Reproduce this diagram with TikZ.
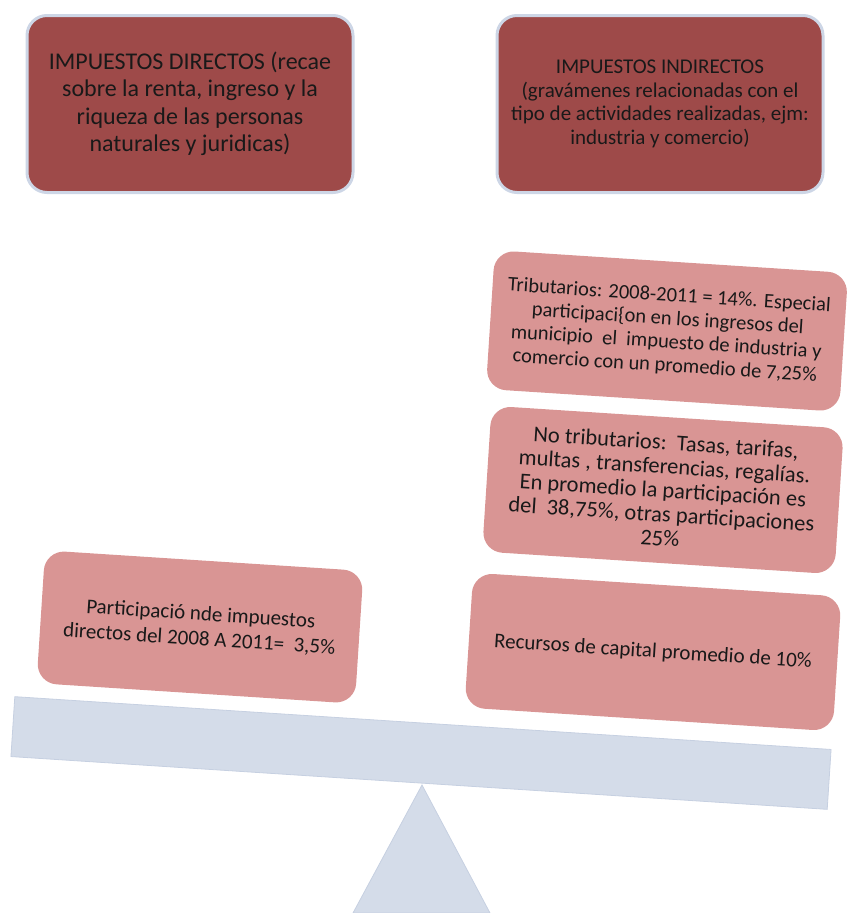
\documentclass[tikz,border=0pt]{standalone}
\usepackage{fontspec}
\setmainfont{Carlito}
\usetikzlibrary{calc}

\definecolor{headred}{RGB}{158,74,73}
\definecolor{frameblue}{RGB}{205,214,230}
\definecolor{weightpink}{RGB}{217,149,148}
\definecolor{beamblue}{RGB}{212,220,233}
\definecolor{beamedge}{RGB}{198,208,225}

\begin{document}
\begin{tikzpicture}[
  x=1pt,y=-1pt,
  font=\fontsize{21}{24}\selectfont,
  box/.style={rounded corners=20pt,align=center,inner sep=4pt,text=black!90},
  head/.style={box,fill=headred,draw=frameblue,line width=3pt,minimum width=326pt,minimum height=177pt},
  weight/.style={box,fill=weightpink,rotate=-3.7},
  seesaw/.style={fill=beamblue,draw=beamedge,line width=0.8pt},
]
\useasboundingbox (0,0) rectangle (848,913);

% balance
\node[seesaw,rotate=-3.7,minimum width=818pt,minimum height=60pt,inner sep=0pt] (bar) at (421,753) {};
\coordinate (apex) at (422,785);
\coordinate (footl) at (353,913);
\coordinate (footr) at (490,913);
\draw[seesaw] (apex) -- (footr) -- (footl) -- cycle;

% headers
\node[head,font=\fontsize{24}{27.5}\selectfont] (direct) at (190,104) {IMPUESTOS DIRECTOS (recae\\sobre la renta, ingreso y la\\riqueza de las personas\\naturales y juridicas)};
\node[head,font=\fontsize{21}{23.5}\selectfont] (indirect) at (660,104) {IMPUESTOS INDIRECTOS\\(gravámenes relacionadas con el\\tipo de actividades realizadas, ejm:\\industria y comercio)};

% weights on the left pan
\node[weight,minimum width=319pt,minimum height=133pt,font=\fontsize{21}{25}\selectfont] (share) at (200,627) {Participació nde impuestos\\directos del 2008 A 2011=\ \ 3,5\%};

% weights on the right pan
\node[weight,minimum width=354pt,minimum height=139pt,font=\fontsize{20.5}{23.5}\selectfont] (tax) at (667,331) {Tributarios: 2008-2011 = 14\%. Especial\\participaci\{on en los ingresos del\\municipio\ \ el\ \ impuesto de industria y\\comercio con un promedio de 7,25\%};
\node[weight,minimum width=353pt,minimum height=146pt,font=\fontsize{22.5}{24}\selectfont] (nontax) at (663,490) {No tributarios:\ \ Tasas, tarifas,\\multas , transferencias, regalías.\\En promedio la participación es\\del\ \ 38,75\%, otras participaciones\\25\%};
\node[weight,minimum width=369pt,minimum height=135pt,font=\fontsize{21}{24}\selectfont] (capital) at (653,652) {Recursos de capital promedio de 10\%};
\end{tikzpicture}
\end{document}
